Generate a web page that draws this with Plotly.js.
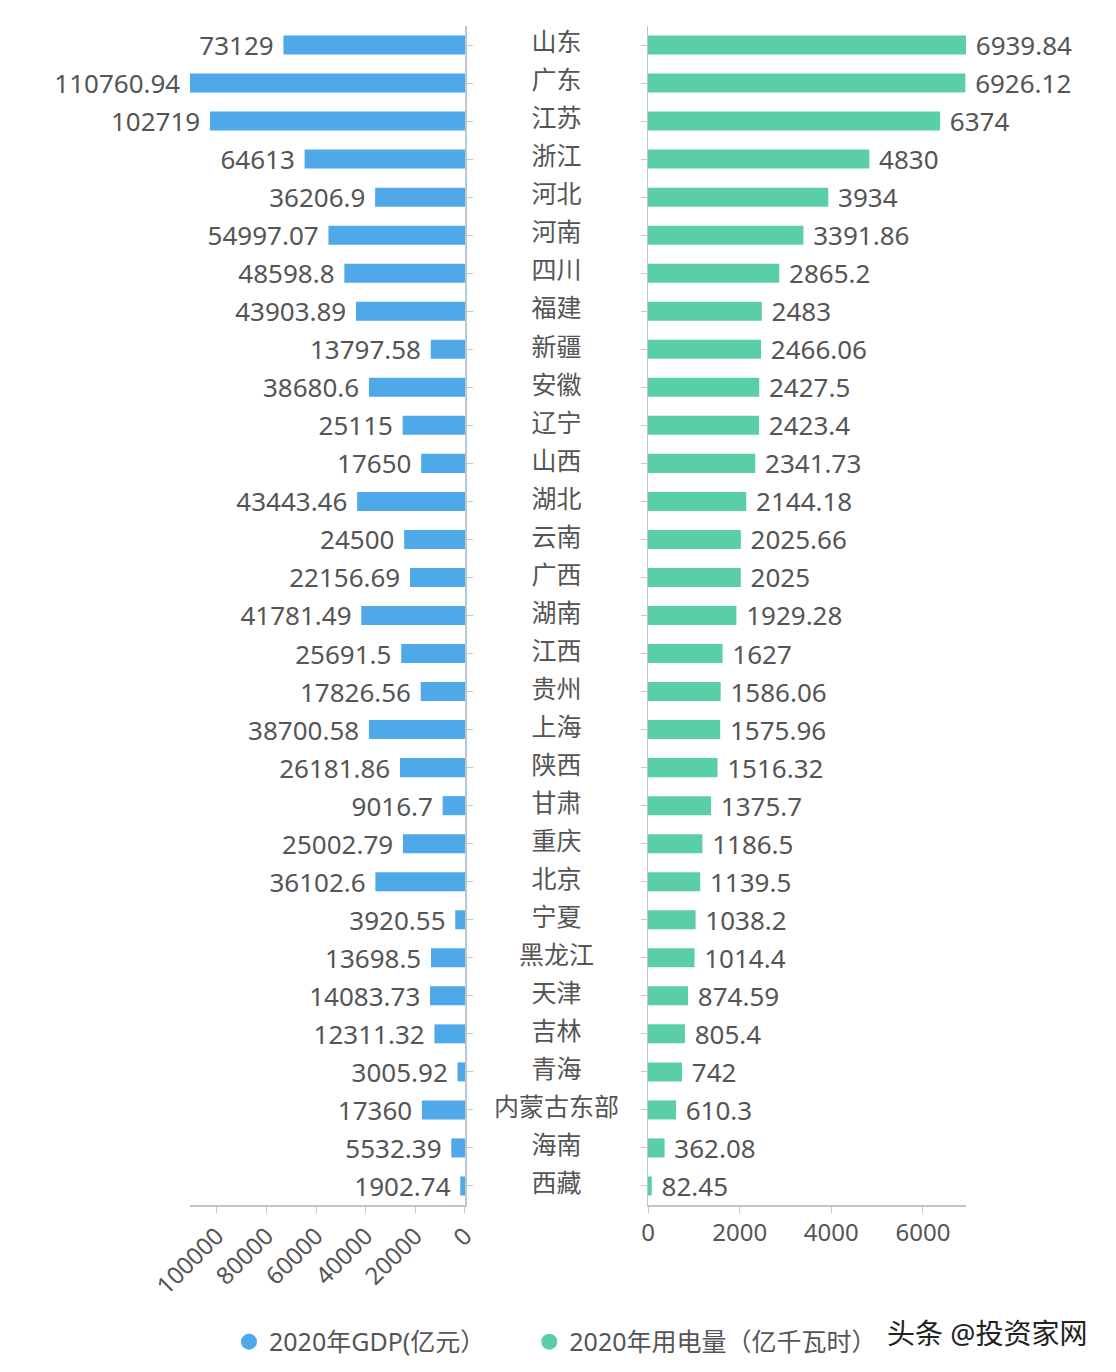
<!DOCTYPE html>
<html>
<head>
<meta charset="utf-8">
<script src="https://cdn.plot.ly/plotly-3.0.1.min.js"></script>
<style>
  body { margin: 0; background: #fff; }
  #chart { width: 1116px; height: 1372px; }
</style>
</head>
<body>
<div id="chart"></div>
<script>
var provinces = ['山东', '广东', '江苏', '浙江', '河北', '河南', '四川', '福建', '新疆', '安徽',
    '辽宁', '山西', '湖北', '云南', '广西', '湖南', '江西', '贵州', '上海', '陕西',
    '甘肃', '重庆', '北京', '宁夏', '黑龙江', '天津', '吉林', '青海', '内蒙古东部', '海南', '西藏'];

var gdp = [73129, 110760.94, 102719, 64613, 36206.9, 54997.07, 48598.8, 43903.89, 13797.58, 38680.6,
    25115, 17650, 43443.46, 24500, 22156.69, 41781.49, 25691.5, 17826.56, 38700.58, 26181.86,
    9016.7, 25002.79, 36102.6, 3920.55, 13698.5, 14083.73, 12311.32, 3005.92, 17360, 5532.39, 1902.74];

var power = [6939.84, 6926.12, 6374, 4830, 3934, 3391.86, 2865.2, 2483, 2466.06, 2427.5,
    2423.4, 2341.73, 2144.18, 2025.66, 2025, 1929.28, 1627, 1586.06, 1575.96, 1516.32,
    1375.7, 1186.5, 1139.5, 1038.2, 1014.4, 874.59, 805.4, 742, 610.3, 362.08, 82.45];

var gdpTicks = [0, 20000, 40000, 60000, 80000, 100000];
var powerTicks = [0, 2000, 4000, 6000];

var blue = '#4fa8e8';
var green = '#5acfa5';
var textCol = '#555';
var fontFam = '"Noto Sans", "Noto Sans CJK SC", sans-serif';

var data = [
    {
        type: 'bar', orientation: 'h',
        x: gdp, y: provinces,
        xaxis: 'x', yaxis: 'y',
        marker: {color: blue},
        text: gdp.map(String),
        texttemplate: '%{text}\u00a0',
        textposition: 'outside',
        constraintext: 'none',
        cliponaxis: false,
        outsidetextfont: {size: 26, color: textCol, family: fontFam},
        showlegend: false, hoverinfo: 'x+y'
    },
    {
        type: 'bar', orientation: 'h',
        x: power, y: provinces,
        xaxis: 'x2', yaxis: 'y2',
        marker: {color: green},
        text: power.map(String),
        texttemplate: '\u00a0%{text}',
        textposition: 'outside',
        constraintext: 'none',
        cliponaxis: false,
        outsidetextfont: {size: 26, color: textCol, family: fontFam},
        showlegend: false, hoverinfo: 'x+y'
    },
    // province names in the middle column
    {
        type: 'scatter', mode: 'text',
        x: provinces.map(function () { return 0.5; }), y: provinces,
        xaxis: 'x3', yaxis: 'y',
        text: provinces,
        textposition: 'middle center',
        textfont: {size: 25, color: textCol, family: fontFam},
        showlegend: false, hoverinfo: 'none', cliponaxis: false
    },
    // legend entries (round markers)
    {
        type: 'scatter', mode: 'markers', x: [null], y: [null],
        xaxis: 'x', yaxis: 'y',
        name: '2020年GDP(亿元）\u00a0\u00a0\u00a0\u00a0\u00a0\u00a0',
        marker: {color: blue, size: 20, symbol: 'circle'}
    },
    {
        type: 'scatter', mode: 'markers', x: [null], y: [null],
        xaxis: 'x2', yaxis: 'y2',
        name: '2020年用电量（亿千瓦时）',
        marker: {color: green, size: 20, symbol: 'circle'}
    }
];

var axisLine = '#bcc8d0';
var catRange = [provinces.length - 0.5, -0.5];

var layout = {
    width: 1116, height: 1372,
    margin: {l: 0, r: 0, t: 0, b: 0},
    paper_bgcolor: '#ffffff', plot_bgcolor: '#ffffff',
    font: {family: fontFam, size: 24, color: textCol},
    bargap: 0.5,
    xaxis: {
        domain: [0.17025, 0.41667],
        range: [110760.94, 0],
        tickvals: gdpTicks,
        tickformat: 'd',
        tickangle: -45,
        ticks: 'outside', ticklen: 6, tickcolor: '#c8c8c8',
        showline: true, linecolor: axisLine, linewidth: 1.5,
        showgrid: false, zeroline: false,
        tickfont: {size: 24, color: textCol},
        anchor: 'y'
    },
    xaxis2: {
        domain: [0.58065, 0.86559],
        range: [0, 6939.84],
        tickvals: powerTicks,
        tickformat: 'd',
        ticks: 'outside', ticklen: 6, tickcolor: '#c8c8c8',
        showline: true, linecolor: axisLine, linewidth: 1.5,
        showgrid: false, zeroline: false,
        tickfont: {size: 24, color: textCol},
        anchor: 'y2'
    },
    xaxis3: {
        domain: [0.41667, 0.58065],
        range: [0, 1],
        visible: false,
        anchor: 'y'
    },
    yaxis: {
        domain: [0.12172, 0.98105],
        type: 'category',
        range: catRange,
        side: 'right',
        anchor: 'x',
        showline: true, linecolor: axisLine, linewidth: 1.5,
        ticks: 'outside', ticklen: 6, tickcolor: '#c8c8c8',
        showticklabels: false, showgrid: false
    },
    yaxis2: {
        domain: [0.12172, 0.98105],
        type: 'category',
        range: catRange,
        side: 'left',
        anchor: 'x2',
        showline: true, linecolor: axisLine, linewidth: 1.5,
        ticks: 'outside', ticklen: 6, tickcolor: '#c8c8c8',
        showticklabels: false, showgrid: false
    },
    legend: {
        orientation: 'h',
        x: 0.2052, xanchor: 'left',
        y: 0.0219, yanchor: 'middle',
        font: {size: 25, color: textCol}
    },
    annotations: [{
        text: '头条 @投资家网',
        xref: 'paper', yref: 'paper',
        x: 0.793, xanchor: 'left',
        y: 0.0284, yanchor: 'middle',
        showarrow: false,
        font: {size: 28, color: '#222'}
    }]
};

Plotly.newPlot('chart', data, layout, {displayModeBar: false, staticPlot: true});
</script>
</body>
</html>
